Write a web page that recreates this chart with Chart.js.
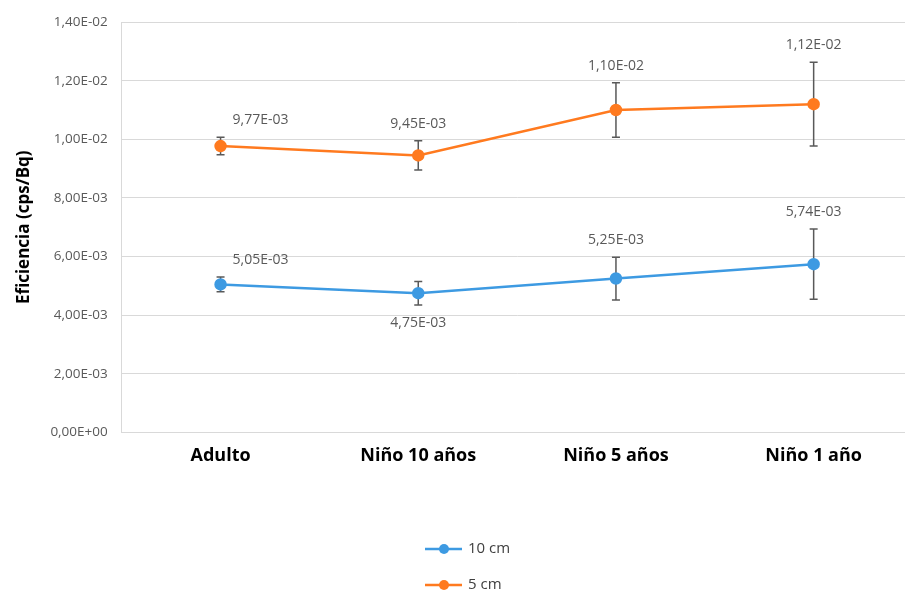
<!DOCTYPE html>
<html>
<head>
<meta charset="utf-8">
<script src="https://cdn.jsdelivr.net/npm/chart.js@4"></script>
<style>
  html, body { margin: 0; padding: 0; background: #fff; overflow: hidden; }
  #wrap { width: 905px; height: 595px; overflow: hidden; position: relative; }
  #wrap canvas { position: absolute; left: 0; top: 0; }
</style>
</head>
<body>
<div id="wrap"><canvas id="effChart" width="920" height="595"></canvas></div>
<script>
const categories = ["Adulto", "Niño 10 años", "Niño 5 años", "Niño 1 año"];
const values10cm = [5.05e-3, 4.75e-3, 5.25e-3, 5.74e-3];
const errors10cm = [0.25e-3, 0.40e-3, 0.73e-3, 1.20e-3];
const values5cm = [9.77e-3, 9.45e-3, 1.10e-2, 1.12e-2];
const errors5cm = [0.30e-3, 0.50e-3, 0.93e-3, 1.43e-3];
const labelSide10cm = ["above", "below", "above", "above"];
const labelSide5cm = ["above", "above", "above", "above"];

// "1,40E-02" style, like the spreadsheet
const sci = (v) => {
  if (v === 0) return "0,00E+00";
  let [m, e] = v.toExponential(2).split("e");
  const sign = e[0] === "-" ? "-" : "+";
  e = e.replace(/[+-]/, "").padStart(2, "0");
  return m.replace(".", ",") + "E" + sign + e;
};

const errorBars = {
  id: "errorBars",
  beforeDatasetsDraw(chart) {
    const ctx = chart.ctx;
    const y = chart.scales.y;
    ctx.save();
    ctx.strokeStyle = "#595959";
    ctx.lineWidth = 1.5;
    chart.data.datasets.forEach((ds, i) => {
      chart.getDatasetMeta(i).data.forEach((pt, j) => {
        const top = y.getPixelForValue(ds.data[j] + ds.errors[j]);
        const bot = y.getPixelForValue(ds.data[j] - ds.errors[j]);
        ctx.beginPath();
        ctx.moveTo(pt.x, top); ctx.lineTo(pt.x, bot);
        ctx.moveTo(pt.x - 4, top); ctx.lineTo(pt.x + 4, top);
        ctx.moveTo(pt.x - 4, bot); ctx.lineTo(pt.x + 4, bot);
        ctx.stroke();
      });
    });
    ctx.restore();
  },
  afterDatasetsDraw(chart) {
    const ctx = chart.ctx;
    const y = chart.scales.y;
    ctx.save();
    ctx.font = "14px 'Open Sans', sans-serif";
    ctx.fillStyle = "#595959";
    ctx.textAlign = "center";
    ctx.textBaseline = "middle";
    chart.data.datasets.forEach((ds, i) => {
      chart.getDatasetMeta(i).data.forEach((pt, j) => {
        const dx = j === 0 ? 40 : 0;
        let ty;
        if (ds.labelSide[j] === "below") {
          ty = y.getPixelForValue(ds.data[j] - ds.errors[j]) + 18;
        } else {
          ty = y.getPixelForValue(ds.data[j] + ds.errors[j]) - 17;
        }
        ctx.fillText(sci(ds.data[j]), pt.x + dx, ty);
      });
    });
    ctx.restore();
  },
};

const bottomLegend = {
  id: "bottomLegend",
  afterDraw(chart) {
    const ctx = chart.ctx;
    const x0 = chart.width / 2 - 35;
    ctx.save();
    ctx.font = "15px 'Open Sans', sans-serif";
    ctx.textBaseline = "middle";
    chart.data.datasets.forEach((ds, i) => {
      const yy = 549 + i * 36;
      ctx.strokeStyle = ds.borderColor;
      ctx.lineWidth = 2.5;
      ctx.beginPath();
      ctx.moveTo(x0, yy); ctx.lineTo(x0 + 37, yy);
      ctx.stroke();
      ctx.fillStyle = ds.borderColor;
      ctx.beginPath();
      ctx.arc(x0 + 19, yy, 5, 0, Math.PI * 2);
      ctx.fill();
      ctx.fillStyle = "#404040";
      ctx.fillText(ds.label, x0 + 43, yy);
    });
    ctx.restore();
  },
};

const ctx = document.getElementById("effChart").getContext("2d");
new Chart(ctx, {
  type: "line",
  data: {
    labels: categories,
    datasets: [
      {
        label: "10 cm",
        data: values10cm,
        errors: errors10cm,
        labelSide: labelSide10cm,
        borderColor: "#3d9ae2",
        backgroundColor: "#3d9ae2",
        borderWidth: 2.5,
        pointRadius: 5,
        pointHoverRadius: 5,
      },
      {
        label: "5 cm",
        data: values5cm,
        errors: errors5cm,
        labelSide: labelSide5cm,
        borderColor: "#ff7a1f",
        backgroundColor: "#ff7a1f",
        borderWidth: 2.5,
        pointRadius: 5,
        pointHoverRadius: 5,
      },
    ],
  },
  options: {
    responsive: false,
    animation: false,
    layout: { padding: { top: 12, left: 14, right: 2, bottom: 123 } },
    plugins: {
      legend: { display: false },
      tooltip: { enabled: false },
    },
    scales: {
      x: {
        offset: true,
        grid: { display: false },
        border: { color: "#d9d9d9", width: 1 },
        ticks: {
          color: "#000",
          padding: 5,
          font: { family: "'Open Sans', sans-serif", size: 18, weight: "bold" },
        },
      },
      y: {
        min: 0,
        max: 0.014,
        ticks: {
          stepSize: 0.002,
          color: "#595959",
          padding: 14,
          font: { family: "'Open Sans', sans-serif", size: 13.5 },
          callback: (v) => sci(v),
        },
        grid: { color: "#d9d9d9", drawTicks: false },
        border: { color: "#d9d9d9" },
        title: {
          display: true,
          text: "Eficiencia (cps/Bq)",
          color: "#000",
          font: { family: "'Open Sans', sans-serif", size: 17, weight: "bold" },
          padding: { top: 0, bottom: 2 },
        },
      },
    },
  },
  plugins: [errorBars, bottomLegend],
});
</script>
</body>
</html>
